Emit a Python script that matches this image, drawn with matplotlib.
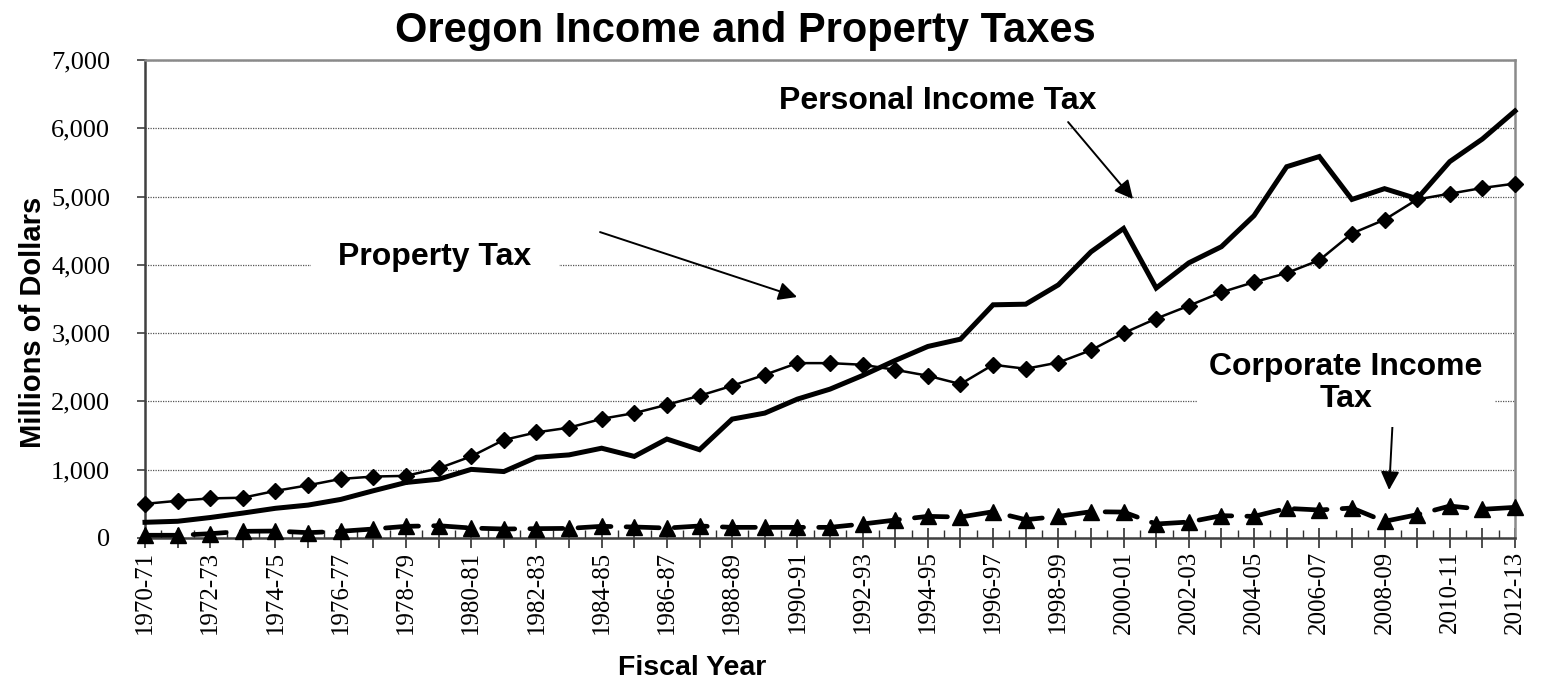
import matplotlib
matplotlib.use("Agg")
import matplotlib.pyplot as plt
from matplotlib.ticker import FuncFormatter, MultipleLocator, FixedLocator

# ---------------- data ----------------
years = ["1970-71", "1971-72", "1972-73", "1973-74", "1974-75", "1975-76", "1976-77",
         "1977-78", "1978-79", "1979-80", "1980-81", "1981-82", "1982-83", "1983-84",
         "1984-85", "1985-86", "1986-87", "1987-88", "1988-89", "1989-90", "1990-91",
         "1991-92", "1992-93", "1993-94", "1994-95", "1995-96", "1996-97", "1997-98",
         "1998-99", "1999-00", "2000-01", "2001-02", "2002-03", "2003-04", "2004-05",
         "2005-06", "2006-07", "2007-08", "2008-09", "2009-10", "2010-11", "2011-12",
         "2012-13"]

property_tax = [500, 545, 580, 590, 690, 772, 865, 900, 910, 1020, 1195, 1436, 1547,
                1616, 1745, 1829, 1951, 2083, 2229, 2390, 2561, 2561, 2537, 2463, 2376,
                2254, 2537, 2478, 2570, 2750, 3000, 3213, 3401, 3599, 3747, 3880, 4068,
                4459, 4661, 4958, 5042, 5126, 5190]

personal_income_tax = [230, 245, 300, 365, 435, 482, 565, 692, 813, 861, 1005, 973, 1182,
                       1217, 1315, 1195, 1449, 1293, 1741, 1829, 2034, 2180, 2380, 2600,
                       2805, 2912, 3415, 3424, 3707, 4190, 4533, 3660, 4029, 4266, 4721,
                       5437, 5586, 4958, 5116, 4968, 5512, 5843, 6253]

corporate_income_tax = [40, 40, 63, 98, 102, 78, 98, 132, 171, 180, 146, 132, 137, 141,
                        171, 161, 146, 176, 156, 156, 156, 156, 205, 263, 317, 307, 385,
                        268, 317, 385, 380, 205, 234, 327, 317, 434, 410, 439, 244, 341,
                        468, 420, 449]

y_ticks = [0, 1000, 2000, 3000, 4000, 5000, 6000, 7000]

title = "Oregon Income and Property Taxes"
y_label = "Millions of Dollars"
x_label = "Fiscal Year"

# ---------------- figure ----------------
SANS = ["Liberation Sans", "DejaVu Sans"]
SERIF = ["Liberation Serif", "DejaVu Serif"]

fig = plt.figure(figsize=(15.42, 6.82), dpi=100)
ax = fig.add_axes([145 / 1542, 1 - 538 / 682, (1515 - 145) / 1542, (538 - 60) / 682])

x = list(range(len(years)))

ax.plot(x, personal_income_tax, color="black", lw=3.6, solid_joinstyle="miter",
        zorder=3, clip_on=False)
ax.plot(x, property_tax, color="black", lw=1.8, marker="D", markersize=8.5,
        zorder=4, clip_on=False)
ax.plot(x, corporate_income_tax, color="black", lw=3.4, marker="^", markersize=12,
        dashes=(7.0, 3.2), dash_capstyle="round", zorder=4, clip_on=False)

ax.set_xlim(0, len(years) - 1)
ax.set_ylim(0, 7000)

# y axis
ax.yaxis.set_major_locator(FixedLocator(y_ticks))
ax.yaxis.set_major_formatter(FuncFormatter(lambda v, p: f"{int(v):,}"))
ax.tick_params(axis="y", direction="out", length=6, width=1.2, color="#404040",
               pad=19, labelsize=19)
for lab in ax.get_yticklabels():
    lab.set_family(SERIF)

# x axis
ax.xaxis.set_major_locator(FixedLocator(x))
ax.xaxis.set_minor_locator(MultipleLocator(0.5))
ax.set_xticklabels([y if i % 2 == 0 else "" for i, y in enumerate(years)],
                   rotation=90, family=SERIF, fontsize=18)
ax.tick_params(axis="x", which="major", direction="inout", length=14, width=1.2,
               color="#303030", pad=2)
ax.tick_params(axis="x", which="minor", direction="in", length=6, width=1.0,
               color="#303030")

# grid
ax.yaxis.grid(True, linestyle=(0, (1, 1)), color="#555555", lw=0.9)
ax.set_axisbelow(True)

for s in ("left", "bottom"):
    ax.spines[s].set_color("#404040")
    ax.spines[s].set_linewidth(1.8)
for s in ("top", "right"):
    ax.spines[s].set_color("#8a8a8a")
    ax.spines[s].set_linewidth(1.8)

# annotations
arrow = dict(arrowstyle="-|>", color="black", lw=1.4, mutation_scale=28,
             shrinkA=0, shrinkB=0)
ax.annotate("", xy=(19.99, 3529), xytext=(13.95, 4480), arrowprops=arrow, zorder=5)
ax.annotate("", xy=(30.29, 4963), xytext=(28.30, 6091), arrowprops=arrow, zorder=5)
ax.annotate("", xy=(38.14, 703), xytext=(38.26, 1801), arrowprops=arrow, zorder=5)

ax.text(8.89, 4120, "Property Tax", family=SANS, weight="bold", fontsize=23,
        ha="center", va="center", zorder=5,
        bbox=dict(boxstyle="square,pad=0.85", fc="white", ec="none"))
ax.text(24.31, 6400, "Personal Income Tax", family=SANS, weight="bold", fontsize=23,
        ha="center", va="center", zorder=5)
ax.text(36.82, 2269, "Corporate Income\nTax", family=SANS, weight="bold", fontsize=23,
        ha="center", va="center", linespacing=1.1, zorder=5,
        bbox=dict(boxstyle="square,pad=0.4", fc="white", ec="none"))

fig.text(745 / 1542, 1 - 31 / 682, title, family=SANS, weight="bold", fontsize=30,
         ha="center", va="center")
fig.text(33 / 1542, 1 - 322 / 682, y_label, family=SANS, weight="bold", fontsize=21,
         ha="center", va="center", rotation=90)
fig.text(692 / 1542, 1 - 668 / 682, x_label, family=SANS, weight="bold", fontsize=20.5,
         ha="center", va="center")

fig.savefig("out.png", dpi=100)
